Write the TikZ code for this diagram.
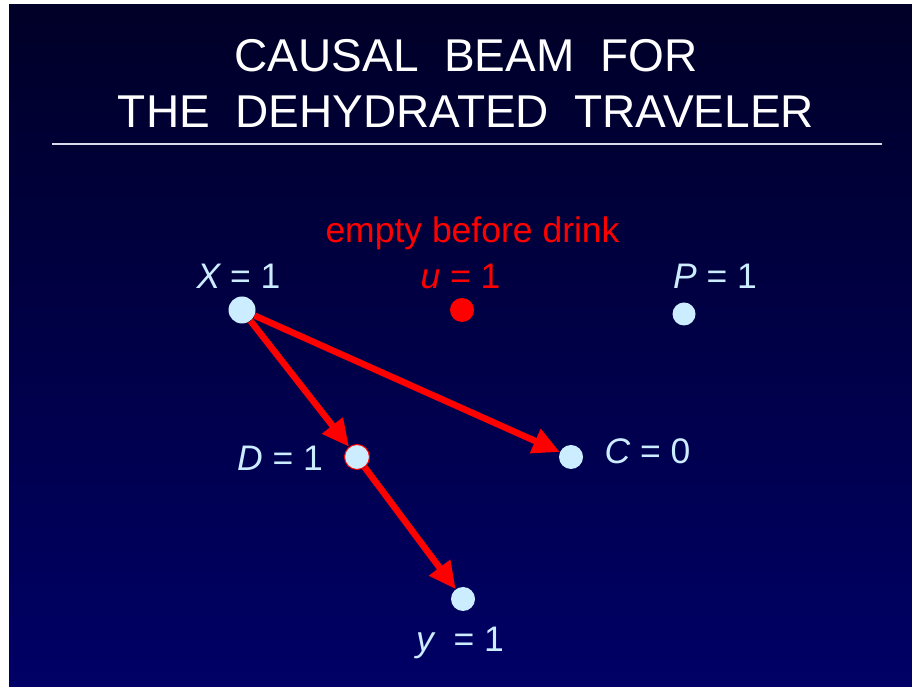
\documentclass[tikz,border=0pt]{standalone}
\usepackage{fontspec}
\setmainfont{Liberation Sans}
\usetikzlibrary{arrows.meta,positioning}
\definecolor{navytop}{RGB}{0,0,40}
\definecolor{navybot}{RGB}{0,0,102}
\definecolor{dotblue}{RGB}{204,236,255}
\definecolor{beamred}{RGB}{255,0,0}
\newcommand{\valfont}{\fontsize{35.5}{40}\selectfont}

\begin{document}
\begin{tikzpicture}[
  x=1pt,y=1pt,
  dot/.style={circle,fill=dotblue,inner sep=0pt,minimum size=24pt},
  val/.style={text=dotblue,font=\valfont,anchor=base,inner sep=0pt},
  ttl/.style={text=white,font=\fontsize{46}{54}\selectfont,anchor=base,inner sep=0pt},
  arr/.style={-{Triangle[length=27pt,width=25pt]},line width=6.5pt,beamred}
]
  \useasboundingbox (0,0) rectangle (912,687);
  \fill[white] (0,0) rectangle (912,687);
  \shade[top color=navytop,bottom color=navybot] (9,0) rectangle (912,682);

  % title
  \node[ttl] (title1) at (466,615) {CAUSAL\ \ BEAM\ \ FOR};
  \node[ttl] (title2) at (466,559) {THE\ \ DEHYDRATED\ \ TRAVELER};
  \coordinate (ruleL) at (52,543);
  \coordinate (ruleR) at (882,543);
  \draw[white!85!navybot,line width=1.2pt] (ruleL) -- (ruleR);

  % variables
  \node[dot,minimum size=27pt] (x) at (242,377) {};
  \node[dot,fill=beamred] (u) at (462,377) {};
  \node[dot,minimum size=23pt] (p) at (684,373) {};
  \node[dot,draw=beamred,line width=1pt,minimum size=25pt] (d) at (357,230) {};
  \node[dot] (c) at (571,230) {};
  \node[dot] (y) at (463,88) {};

  \node[val,text=beamred] (empty) at (472.5,444) {empty before drink};
  \node[val] (xlab) at (238.5,398) {{\itshape X} = 1};
  \node[val,text=beamred] (ulab) at (460.5,398) {{\itshape u} = 1};
  \node[val] (plab) at (715,398) {{\itshape P} = 1};
  \node[val] (dlab) at (280,216) {{\itshape D} = 1};
  \node[val] (clab) at (647.5,223) {{\itshape C} = 0};
  \node[val] (ylab) at (460,35.5) {{\itshape y}\ \ = 1};

  % causal beam
  \draw[arr] (x) -- (d);
  \draw[arr] (x) -- (c);
  \draw[arr] (d) -- (y);
\end{tikzpicture}
\end{document}
